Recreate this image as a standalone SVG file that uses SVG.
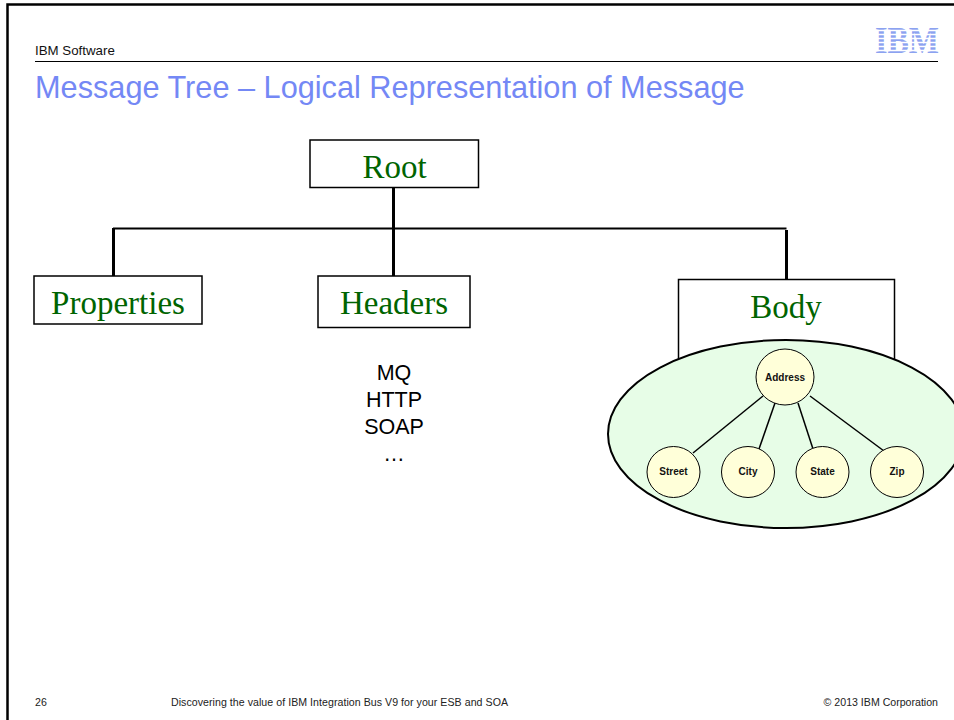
<svg xmlns="http://www.w3.org/2000/svg" width="954" height="720" viewBox="0 0 954 720">
<style>
.sans{font-family:"Liberation Sans",Arial,sans-serif}
.box{fill:#fff;stroke:#000;stroke-width:1.5}
.lbl{font-family:"Liberation Serif","Times New Roman",serif;font-size:33px;fill:#006400;text-anchor:middle}
.c{fill:#ffffd9;stroke:#000;stroke-width:1}
.cl{font-family:"Liberation Sans",Arial,sans-serif;font-size:10px;font-weight:bold;fill:#111;text-anchor:middle}
.conn{stroke:#000;fill:none}
.hdr{font-family:"Liberation Sans",Arial,sans-serif;font-size:21.5px;fill:#000;text-anchor:middle}
.ft{font-family:"Liberation Sans",Arial,sans-serif;font-size:10.6px;fill:#222}
</style>
<rect width="954" height="720" fill="#fff"/>
<path d="M7.5 720V4.500H954" fill="none" stroke="#000" stroke-width="2.500"/>
<g id="header">
<text class="sans" x="35" y="55" font-size="13.300" fill="#111">IBM Software</text>
<line x1="35" y1="61.500" x2="938" y2="61.500" stroke="#000" stroke-width="1"/>
<text class="sans" x="35" y="98" font-size="30.700" fill="#7488f5">Message Tree – Logical Representation of Message</text>
<g id="ibm-logo">
<text x="875" y="53" font-family="'Liberation Serif',serif" font-weight="bold" font-size="38" fill="#8ca2f0" textLength="64" lengthAdjust="spacingAndGlyphs">IBM</text>
<g stroke="#fff" stroke-width="1.500"><line x1="872" y1="30.500" x2="942" y2="30.500"/><line x1="872" y1="34.500" x2="942" y2="34.500"/><line x1="872" y1="38.500" x2="942" y2="38.500"/><line x1="872" y1="42.500" x2="942" y2="42.500"/><line x1="872" y1="46.500" x2="942" y2="46.500"/><line x1="872" y1="50.500" x2="942" y2="50.500"/></g>
</g>
</g>
<g id="connectors">
<path class="conn" stroke-width="3" d="M393.500 188V276"/>
<path class="conn" stroke-width="3" d="M113.500 276V228"/>
<path class="conn" stroke-width="2" d="M113 228.500H786.500"/>
<path class="conn" stroke-width="3" d="M786.500 230V279"/>
</g>
<g id="root"><rect class="box" x="310" y="140" width="168.500" height="47.500"/><text class="lbl" x="394.500" y="178">Root</text></g>
<g id="properties"><rect class="box" x="34" y="276" width="168" height="48"/><text class="lbl" x="118" y="314">Properties</text></g>
<g id="headers"><rect class="box" x="318" y="276" width="152" height="51.500"/><text class="lbl" x="394" y="314">Headers</text></g>
<g id="headers-list">
<text class="hdr" x="394" y="380">MQ</text><text class="hdr" x="394" y="407">HTTP</text><text class="hdr" x="394" y="434">SOAP</text><text class="hdr" x="394" y="461">…</text>
</g>
<g id="body"><rect class="box" x="678.500" y="279.500" width="216" height="100"/><text class="lbl" x="786" y="318">Body</text>
<ellipse cx="786" cy="434" rx="178" ry="94" fill="#e7fde7" stroke="#000" stroke-width="2"/></g>
<g id="tree-connectors">
<line class="conn" stroke-width="1.500" x1="763" y1="396" x2="693" y2="453"/>
<line class="conn" stroke-width="1.500" x1="775" y1="403" x2="759" y2="449"/>
<line class="conn" stroke-width="1.500" x1="798" y1="403" x2="813" y2="449"/>
<line class="conn" stroke-width="1.500" x1="810" y1="396" x2="884" y2="451"/>
</g>
<g id="address"><ellipse class="c" cx="785" cy="377" rx="29" ry="28"/><text class="cl" x="785" y="381">Address</text></g>
<g id="street"><ellipse class="c" cx="673.500" cy="472" rx="26.500" ry="25.500"/><text class="cl" x="673.500" y="475">Street</text></g>
<g id="city"><ellipse class="c" cx="748" cy="472" rx="26.500" ry="25.500"/><text class="cl" x="748" y="475">City</text></g>
<g id="state"><ellipse class="c" cx="822.500" cy="472" rx="26.500" ry="25.500"/><text class="cl" x="822.500" y="475">State</text></g>
<g id="zip"><ellipse class="c" cx="897" cy="472" rx="26.500" ry="25.500"/><text class="cl" x="897" y="475">Zip</text></g>
<g id="footer">
<text class="ft" x="35" y="706">26</text>
<text class="ft" x="171" y="706" textLength="337">Discovering the value of IBM Integration Bus V9 for your ESB and SOA</text>
<text class="ft" x="938" y="706" text-anchor="end">© 2013 IBM Corporation</text>
</g>
</svg>
